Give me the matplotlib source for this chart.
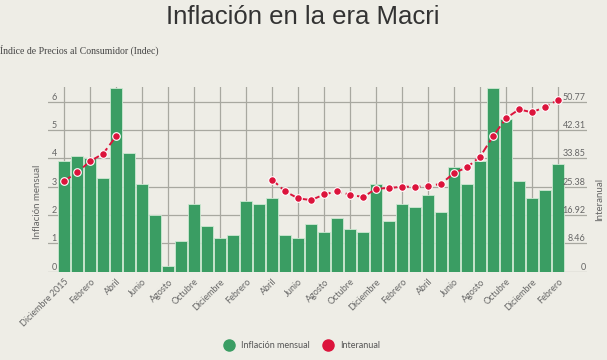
import matplotlib
matplotlib.use("Agg")
import matplotlib.pyplot as plt
from matplotlib.lines import Line2D
import numpy as np

months = ["Diciembre 2015", "Enero", "Febrero", "Marzo", "Abril", "Mayo", "Junio", "Julio",
          "Agosto", "Septiembre", "Octubre", "Noviembre", "Diciembre",
          "Enero", "Febrero", "Marzo", "Abril", "Mayo", "Junio", "Julio",
          "Agosto", "Septiembre", "Octubre", "Noviembre", "Diciembre",
          "Enero", "Febrero", "Marzo", "Abril", "Mayo", "Junio", "Julio",
          "Agosto", "Septiembre", "Octubre", "Noviembre", "Diciembre",
          "Enero", "Febrero"]
mensual = [3.9, 4.1, 4.0, 3.3, 6.5, 4.2, 3.1, 2.0, 0.2, 1.1, 2.4, 1.6, 1.2,
           1.3, 2.5, 2.4, 2.6, 1.3, 1.2, 1.7, 1.4, 1.9, 1.5, 1.4, 3.1,
           1.8, 2.4, 2.3, 2.7, 2.1, 3.7, 3.1, 3.9, 6.5, 5.4, 3.2, 2.6,
           2.9, 3.8]
nan = float("nan")
interanual = [27.1, 29.7, 33.0, 35.3, 40.5, nan, nan, nan, nan, nan, nan, nan, nan,
              nan, nan, nan, 27.5, 24.0, 21.9, 21.4, 23.1, 24.0, 23.0, 22.3, 24.8,
              25.0, 25.4, 25.4, 25.5, 26.3, 29.5, 31.2, 34.4, 40.5, 45.9, 48.5, 47.6,
              49.3, 51.3]
left_ticks = [0, 1, 2, 3, 4, 5, 6]
right_ticks = [0, 8.46, 16.92, 25.38, 33.85, 42.31, 50.77]
right_labels = ["0", "8.46", "16.92", "25.38", "33.85", "42.31", "50.77"]

BG = "#eeede6"
GREEN = "#3a9d63"
RED = "#dc143c"
GRID = "#a8a8a0"
TXT = "#666666"

plt.rcParams["font.family"] = ["Lato", "DejaVu Sans"]

fig = plt.figure(figsize=(6.07, 3.6), dpi=100, facecolor=BG)
ax = fig.add_axes([48/607, 1-271.7/360, (587-48)/607, (271.7-86.5)/360])
ax.set_facecolor(BG)
x = np.arange(len(months))
ax.bar(x, mensual, width=0.9, color=GREEN, edgecolor="#cde8d2", linewidth=0.6, zorder=2)
ymax = 6.54
ax.set_ylim(0, ymax)
ax.set_xlim(-1.246, 40.22)
ax.set_yticks(left_ticks)
ax.set_yticklabels([str(t) for t in left_ticks])
ax.set_xticks(x[::2])
ax.set_xticklabels(months[::2], rotation=45, ha="right", rotation_mode="anchor",
                   fontsize=6.5, color=TXT)
ax.tick_params(axis="x", length=0, pad=4)
ax.tick_params(axis="y", length=0, pad=-2.5, labelsize=6.5, labelcolor=TXT)
for lab in ax.get_yticklabels():
    lab.set_verticalalignment("bottom")
    lab.set_horizontalalignment("left")
ax.grid(True, color=GRID, linewidth=0.9, zorder=0)
ax.set_axisbelow(True)
for s in ax.spines.values():
    s.set_visible(False)

ax2 = ax.twinx()
ax2.set_ylim(0, ymax * 50.77 / 6)
ax2.plot(x, interanual, color=RED, linestyle=(0, (4, 2)), linewidth=1.4,
         marker="o", markersize=5.5, markerfacecolor=RED, markeredgecolor="white",
         markeredgewidth=0.8, zorder=5)
ax2.set_yticks(right_ticks)
ax2.set_yticklabels(right_labels)
ax2.tick_params(axis="y", length=0, pad=-1, labelsize=6.5, labelcolor=TXT)
for lab in ax2.get_yticklabels():
    lab.set_verticalalignment("bottom")
    lab.set_horizontalalignment("right")
for s in ax2.spines.values():
    s.set_visible(False)

fig.text(303/607, 1-17/360, "Inflación en la era Macri", ha="center", va="center",
         fontsize=18.5, color="#333333", family="Liberation Sans")
fig.text(0/607, 1-50/360, "Índice de Precios al Consumidor (Indec)", ha="left", va="center",
         fontsize=7, color="#444444", family="Liberation Serif")
fig.text(38/607, 1-202/360, "Inflación mensual", rotation=90, ha="center", va="center",
         fontsize=7, color=TXT)
fig.text(600/607, 1-199/360, "Interanual", rotation=90, ha="center", va="center",
         fontsize=7, color=TXT)

handles = [Line2D([], [], marker="o", linestyle="none", markersize=8, color=GREEN),
           Line2D([], [], marker="o", linestyle="none", markersize=8, color=RED)]
fig.legend(handles, ["Inflación mensual", "Interanual"], loc="center",
           bbox_to_anchor=(300/607, 1-346/360), ncol=2, frameon=False,
           fontsize=6.5, labelcolor="#555555", handletextpad=0.3, columnspacing=1.0)

fig.savefig("out.png", dpi=100, facecolor=BG)
